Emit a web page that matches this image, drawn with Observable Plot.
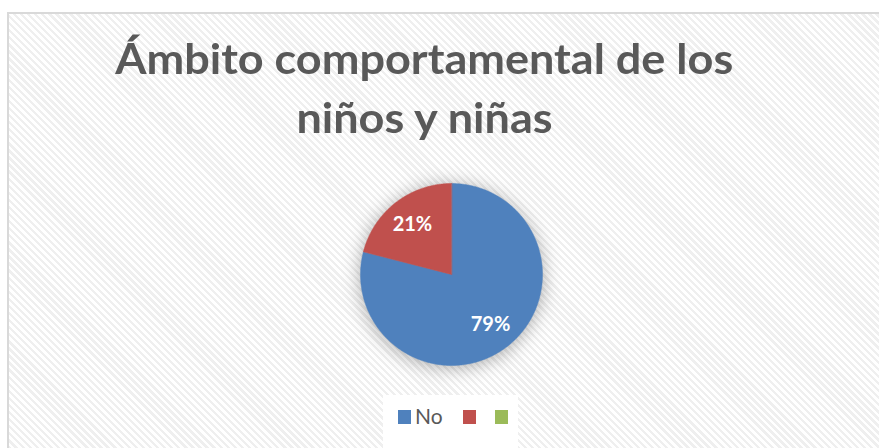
<!DOCTYPE html>
<html>
<head>
<meta charset="utf-8">
<script src="https://cdn.jsdelivr.net/npm/d3@7"></script>
<script src="https://cdn.jsdelivr.net/npm/@observablehq/plot@0.6"></script>
<style>
  html, body { margin: 0; padding: 0; background: #fff; }
  #wrap { position: relative; width: 879px; height: 448px; overflow: hidden; background: #fff; font-family: Lato, "Open Sans", sans-serif; }
  #frame { position: absolute; left: 7px; top: 12px; width: 900px; height: 460px; border: 2px solid #d9d9d9;
    background: repeating-linear-gradient(45deg, #ffffff 0px, #ffffff 2.6px, #efefef 2.6px, #efefef 5px); }
  #title { position: absolute; left: 0; width: 848px; top: 29px; text-align: center; color: #595959;
    font-weight: 700; font-size: 42px; line-height: 59px; }
  #title span { display: inline-block; white-space: nowrap; }
  #chart { position: absolute; left: 0; top: 0; }
  #legend { position: absolute; left: 383px; top: 395px; width: 135px; height: 60px; background: #fff; }
  .item { position: absolute; top: 15px; height: 14px; }
  .sw { position: absolute; top: 0; width: 13px; height: 14px; }
  .lab { position: absolute; left: 17px; top: -6px; font-size: 21px; line-height: 24px; color: #595959; white-space: nowrap; }
</style>
</head>
<body>
<div id="wrap">
  <div id="frame"></div>
  <div id="title"><span id="t1">Ámbito comportamental de los</span><br><span id="t2">niños y niñas</span></div>
  <div id="chart"></div>
  <div id="legend"></div>
</div>
<script>
const categories = ["No", "", ""];
const values = [79, 21, 0];
const labels = ["79%", "21%", ""];
const colors = ["#4F81BD", "#C0504D", "#9BBB59"];

const rows = categories.map((c, i) => ({key: "s" + i, category: c, value: values[i], label: labels[i]}));
const arcs = d3.pie().sort(null).value(d => d.value)(rows);

const features = arcs.filter(a => a.endAngle > a.startAngle).map(a => {
  const ring = [[0, 0]];
  const n = Math.max(2, Math.ceil((a.endAngle - a.startAngle) / (Math.PI / 360)));
  for (let k = 0; k <= n; k++) {
    const t = a.startAngle + (a.endAngle - a.startAngle) * k / n;
    ring.push([Math.sin(t), -Math.cos(t)]);
  }
  ring.push([0, 0]);
  return {type: "Feature", properties: {key: a.data.key}, geometry: {type: "Polygon", coordinates: [ring]}};
});

const labelPts = arcs.filter(a => a.data.label).map(a => {
  const m = (a.startAngle + a.endAngle) / 2;
  return {label: a.data.label, x: 0.7 * Math.sin(m), y: -0.7 * Math.cos(m)};
});

const keys = rows.map(r => r.key);
const plot = Plot.plot({
  width: 879,
  height: 448,
  margin: 0,
  projection: d3.geoIdentity().scale(91).translate([451, 274]),
  color: {domain: keys, range: colors},
  marks: [
    Plot.geo(features, {fill: d => d.properties.key, stroke: d => d.properties.key, strokeWidth: 0.5}),
    Plot.text(labelPts, {x: "x", y: "y", text: "label", fill: "white", fontSize: 20, fontWeight: 700, fontFamily: "Lato"})
  ]
});
plot.style.background = "transparent";
plot.style.overflow = "visible";
document.getElementById("chart").appendChild(plot);
const g = plot.querySelector('g[aria-label="geo"]');
if (g) g.style.filter = "drop-shadow(0px 2px 9px rgba(0,0,0,0.32))";

// legend
const leg = document.getElementById("legend");
const offsets = [15, 80, 112];
rows.forEach((r, i) => {
  const it = document.createElement("div");
  it.className = "item";
  it.style.left = offsets[i] + "px";
  const sw = document.createElement("div");
  sw.className = "sw";
  sw.style.background = colors[i];
  it.appendChild(sw);
  if (r.category) {
    const lb = document.createElement("div");
    lb.className = "lab";
    lb.textContent = r.category;
    it.appendChild(lb);
  }
  leg.appendChild(it);
});

// fit title width to reference proportions
const t1 = document.getElementById("t1"), t2 = document.getElementById("t2");
const w = t1.getBoundingClientRect().width;
const k = 618 / w;
[t1, t2].forEach(t => { t.style.transform = `scaleX(${k})`; });
</script>
</body>
</html>
